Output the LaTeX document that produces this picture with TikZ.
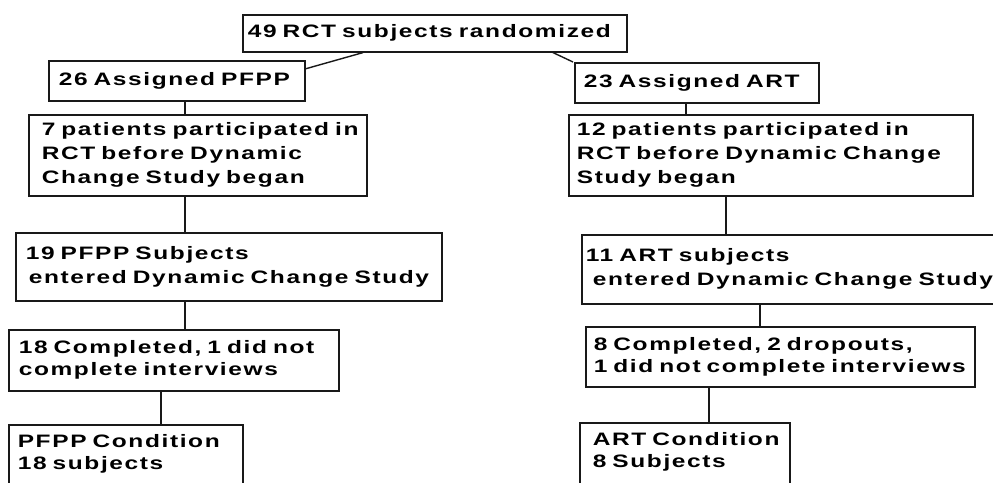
\documentclass[tikz,border=0pt]{standalone}
\usepackage{fontspec}
\newfontfamily\boxfont{Liberation Sans}[BoldFeatures={FakeStretch=1.36,LetterSpace=9},UprightFeatures={FakeStretch=1.36,LetterSpace=9}]
\begin{document}
\begin{tikzpicture}[x=1pt,y=-1pt,
  box/.style={draw=black!90, line width=1.6pt, anchor=north west, align=left,
    inner ysep=0pt, font=\boxfont\bfseries\fontsize{18}{24}\selectfont},
  tight/.style={font=\boxfont\bfseries\fontsize{18}{22}\selectfont},
  link/.style={draw=black!90, line width=1.4pt}]
\useasboundingbox (0,0) rectangle (993,482);
\clip (0,0) rectangle (993,482);
\node[box, inner xsep=5pt, minimum width=384pt, minimum height=37pt, text width=374pt] (A) at (242,14) {\mbox{49 RCT subjects randomized}};
\node[box, inner xsep=10pt, minimum width=256pt, minimum height=40pt, text width=236pt] (B) at (48,60) {\mbox{26 Assigned PFPP}};
\node[box, inner xsep=9pt, minimum width=244pt, minimum height=40pt, text width=226pt] (C) at (574,62) {\mbox{23 Assigned ART}};
\node[box, inner xsep=13pt, minimum width=338pt, minimum height=81pt, text width=312pt] (D) at (28,114) {\mbox{7 patients participated in}\\\mbox{RCT before Dynamic}\\\mbox{Change Study began}};
\node[box, inner xsep=8pt, minimum width=404pt, minimum height=81pt, text width=388pt] (E) at (568,114) {\mbox{12 patients participated in}\\\mbox{RCT before Dynamic Change}\\\mbox{Study began}};
\node[box, inner xsep=10pt, minimum width=426pt, minimum height=68pt, text width=406pt] (F) at (15,232) {\mbox{19 PFPP Subjects}\\\mbox{\hspace*{3pt}entered Dynamic Change Study}};
\node[box, inner xsep=4pt, minimum width=440pt, minimum height=69pt, text width=432pt] (G) at (581,234) {\mbox{11 ART subjects}\\\mbox{\hspace*{7pt}entered Dynamic Change Study}};
\node[box, tight, inner xsep=10pt, minimum width=330pt, minimum height=61pt, text width=310pt] (H) at (8,329) {\mbox{18 Completed, 1 did not}\\\mbox{complete interviews}};
\node[box, tight, inner xsep=8pt, minimum width=389pt, minimum height=60pt, text width=373pt] (I) at (585,326) {\mbox{8 Completed, 2 dropouts,}\\\mbox{1 did not complete interviews}};
\node[box, tight, inner xsep=9pt, inner ysep=10pt, text depth=30pt, minimum width=234pt, text width=216pt] (J) at (8,424) {\mbox{PFPP Condition}\\\mbox{18 subjects}};
\node[box, tight, inner xsep=13pt, inner ysep=10pt, text depth=30pt, minimum width=210pt, text width=184pt] (K) at (579,422) {\mbox{ART Condition}\\\mbox{8 Subjects}};
\draw[link] ([xshift=121pt]A.south west) -- ([yshift=12pt]B.east);
\draw[link] ([xshift=311pt]A.south west) -- ([xshift=-1pt]C.north west);
\draw[link] ([xshift=137pt]B.south west) -- ([xshift=137pt]B.south west |- D.north);
\draw[link] ([xshift=157pt]D.south west) -- ([xshift=157pt]D.south west |- F.north);
\draw[link] ([xshift=112pt]C.south west) -- ([xshift=112pt]C.south west |- E.north);
\draw[link] ([xshift=158pt]E.south west) -- ([xshift=158pt]E.south west |- G.north);
\draw[link] ([xshift=170pt]F.south west) -- ([xshift=170pt]F.south west |- H.north);
\draw[link] ([xshift=179pt]G.south west) -- ([xshift=179pt]G.south west |- I.north);
\draw[link] ([xshift=153pt]H.south west) -- ([xshift=153pt]H.south west |- J.north);
\draw[link] ([xshift=124pt]I.south west) -- ([xshift=124pt]I.south west |- K.north);
\end{tikzpicture}
\end{document}
